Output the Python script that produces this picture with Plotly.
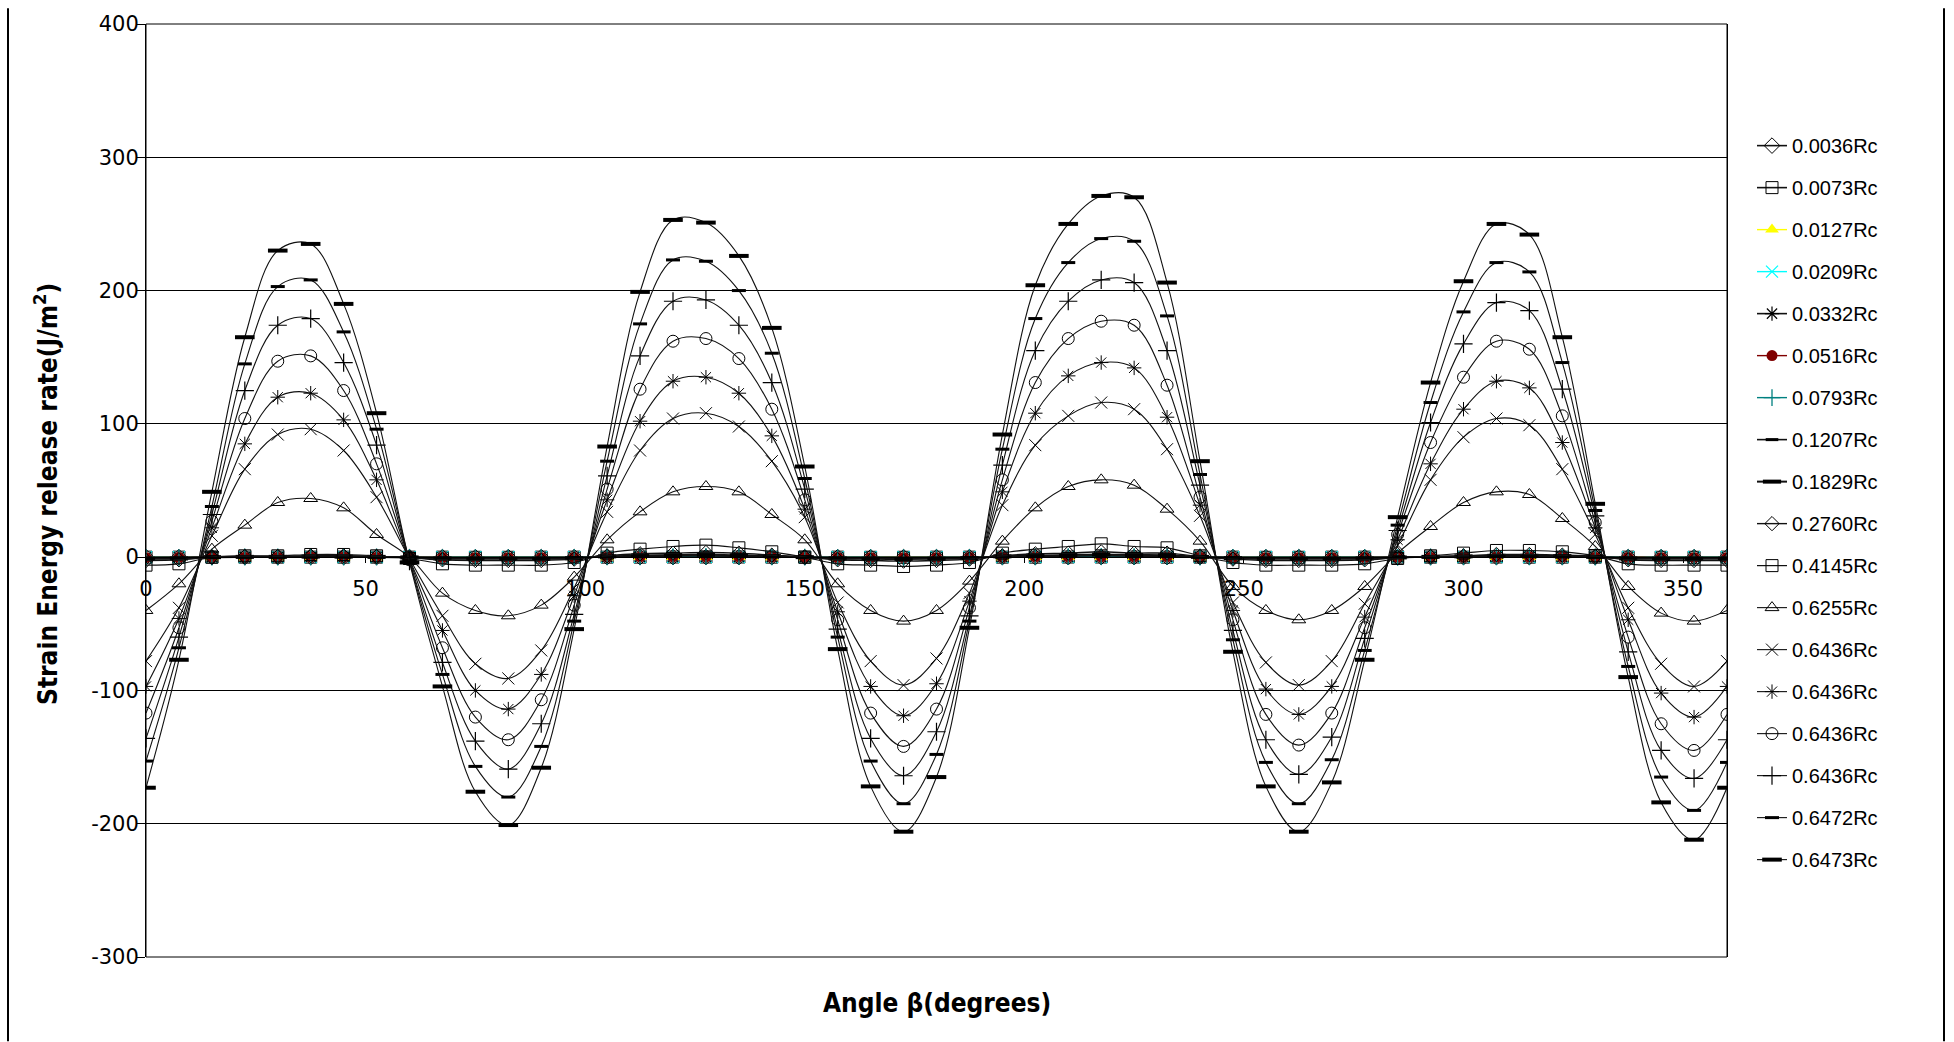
import plotly.graph_objects as go

# ---------------- data ----------------
angle_deg = [0, 7.5, 15, 22.5, 30, 37.5, 45, 52.5, 60, 67.5, 75, 82.5, 90, 97.5,
             105, 112.5, 120, 127.5, 135, 142.5, 150, 157.5, 165, 172.5, 180,
             187.5, 195, 202.5, 210, 217.5, 225, 232.5, 240, 247.5, 255, 262.5,
             270, 277.5, 285, 292.5, 300, 307.5, 315, 322.5, 330, 337.5, 345,
             352.5, 360]

x_tick_vals = [0, 50, 100, 150, 200, 250, 300, 350]
y_tick_vals = [-300, -200, -100, 0, 100, 200, 300, 400]

g_0036 = [0.0, 0.0, 0.0, 0.0, 0.0, 0.0, 0.0, 0.0, 0.0, 0.0, 0.0, 0.0, 0.0, 0.0,
          0.0, 0.0, 0.0, 0.1, 0.0, 0.0, 0.0, 0.0, 0.0, 0.0, 0.0, 0.0, 0.0, 0.0,
          0.0, 0.1, 0.0, 0.0, 0.0, 0.0, 0.0, 0.0, 0.0, 0.0, 0.0, 0.0, 0.0, 0.0,
          0.0, 0.0, 0.0, 0.0, 0.0, 0.0, 0.0]
g_0073 = [0.0, 0.0, 0.0, 0.0, 0.0, 0.0, 0.0, 0.0, 0.0, 0.0, -0.1, -0.1, 0.0, 0.0,
          0.0, 0.0, 0.1, 0.1, 0.1, 0.0, 0.0, 0.0, -0.1, -0.1, 0.0, 0.0, 0.0, 0.0,
          0.1, 0.1, 0.1, 0.0, 0.0, 0.0, -0.1, -0.1, 0.0, 0.0, 0.0, 0.0, 0.0, 0.1,
          0.0, 0.0, 0.0, 0.0, -0.1, -0.1, 0.0]
g_0127 = [-0.1, 0.0, 0.0, 0.0, 0.0, 0.0, 0.0, 0.0, 0.0, 0.0, -0.1, -0.1, -0.1, 0.0,
          0.0, 0.1, 0.1, 0.1, 0.1, 0.0, 0.0, 0.0, -0.1, -0.1, -0.1, 0.0, 0.0, 0.1,
          0.1, 0.1, 0.1, 0.1, 0.0, 0.0, -0.1, -0.1, -0.1, 0.0, 0.0, 0.0, 0.0, 0.1,
          0.1, 0.0, 0.0, 0.0, -0.1, -0.1, -0.1]
g_0209 = [-0.1, -0.1, 0.0, 0.0, 0.0, 0.0, 0.0, 0.0, 0.0, -0.1, -0.1, -0.1, -0.1, 0.0,
          0.0, 0.1, 0.1, 0.1, 0.1, 0.0, 0.0, -0.1, -0.1, -0.1, -0.1, 0.0, 0.0, 0.1,
          0.1, 0.1, 0.1, 0.1, 0.0, -0.1, -0.1, -0.1, -0.1, -0.1, 0.0, 0.0, 0.0, 0.1,
          0.1, 0.0, 0.0, -0.1, -0.1, -0.1, -0.1]
g_0332 = [-0.1, -0.1, 0.0, 0.0, 0.0, 0.0, 0.0, 0.0, 0.0, -0.1, -0.1, -0.1, -0.1, -0.1,
          0.0, 0.1, 0.1, 0.1, 0.1, 0.0, 0.0, -0.1, -0.1, -0.1, -0.1, -0.1, 0.0, 0.1,
          0.1, 0.1, 0.1, 0.1, 0.0, -0.1, -0.1, -0.1, -0.1, -0.1, 0.0, 0.0, 0.0, 0.1,
          0.1, 0.0, 0.0, -0.1, -0.1, -0.1, -0.1]
g_0516 = [-0.2, -0.1, 0.0, 0.0, 0.0, 0.1, 0.1, 0.0, 0.0, -0.1, -0.2, -0.2, -0.2, -0.1,
          0.1, 0.2, 0.2, 0.3, 0.2, 0.1, 0.0, -0.1, -0.2, -0.2, -0.2, -0.1, 0.1, 0.2,
          0.2, 0.3, 0.2, 0.2, 0.0, -0.1, -0.2, -0.2, -0.2, -0.1, 0.0, 0.0, 0.1, 0.1,
          0.1, 0.1, 0.0, -0.1, -0.2, -0.2, -0.2]
g_0793 = [-0.3, -0.3, 0.0, 0.1, 0.1, 0.1, 0.1, 0.1, -0.1, -0.3, -0.3, -0.3, -0.3, -0.2,
          0.2, 0.3, 0.4, 0.5, 0.4, 0.2, 0.0, -0.3, -0.3, -0.4, -0.3, -0.2, 0.2, 0.3,
          0.4, 0.5, 0.4, 0.4, 0.1, -0.2, -0.3, -0.3, -0.3, -0.3, -0.1, 0.1, 0.2, 0.3,
          0.3, 0.2, 0.1, -0.3, -0.3, -0.3, -0.3]
g_1207 = [-0.6, -0.5, 0.0, 0.1, 0.1, 0.2, 0.2, 0.1, -0.1, -0.5, -0.6, -0.6, -0.6, -0.4,
          0.3, 0.6, 0.8, 0.9, 0.7, 0.4, 0.0, -0.5, -0.6, -0.7, -0.6, -0.4, 0.3, 0.6,
          0.8, 1.0, 0.8, 0.7, 0.1, -0.4, -0.6, -0.6, -0.6, -0.5, -0.1, 0.1, 0.3, 0.5,
          0.5, 0.4, 0.1, -0.5, -0.6, -0.6, -0.6]
g_1829 = [-1.2, -1.0, 0.0, 0.2, 0.2, 0.4, 0.4, 0.2, -0.2, -1.0, -1.2, -1.2, -1.2, -0.8,
          0.6, 1.2, 1.6, 1.8, 1.4, 0.8, 0.0, -1.0, -1.2, -1.4, -1.2, -0.8, 0.6, 1.2,
          1.6, 2.0, 1.6, 1.4, 0.2, -0.8, -1.2, -1.2, -1.2, -1.0, -0.2, 0.2, 0.6, 1.0,
          1.0, 0.8, 0.2, -1.0, -1.2, -1.2, -1.2]
g_2760 = [-2.5, -2.0, 0.0, 0.5, 0.5, 1.0, 1.0, 0.5, -0.5, -2.0, -2.5, -2.5, -2.5, -1.5,
          1.0, 2.5, 3.0, 3.5, 3.0, 1.5, 0.0, -2.0, -2.5, -3.0, -2.5, -1.5, 1.0, 2.5,
          3.0, 4.0, 3.0, 3.0, 0.5, -1.5, -2.5, -2.5, -2.5, -2.0, -0.5, 0.5, 1.0, 2.0,
          2.0, 1.5, 0.5, -2.0, -2.5, -2.5, -2.5]
g_4145 = [-6, -5, 0, 1, 1, 2, 2, 1, -1, -5, -6, -6, -6, -4,
          3, 6, 8, 9, 7, 4, 0, -5, -6, -7, -6, -4, 3, 6,
          8, 10, 8, 7, 1, -4, -6, -6, -6, -5, -1, 1, 3, 5,
          5, 4, 1, -5, -6, -6, -6]
g_6255 = [-40, -20, 6, 24, 41, 44, 37, 17, 0, -27, -40, -44, -36, -15,
          13, 34, 49, 53, 49, 32, 13, -20, -40, -48, -40, -18, 12, 37,
          53, 58, 54, 36, 12, -22, -40, -47, -40, -22, 3, 23, 41, 49,
          47, 29, 8, -22, -42, -48, -40]
g_6436a = [-78, -38, 16, 66, 92, 96, 80, 45, -1, -44, -80, -91, -70, -23,
           34, 80, 104, 108, 98, 72, 30, -34, -78, -96, -76, -27, 39, 84,
           106, 116, 111, 81, 31, -34, -79, -96, -78, -35, 9, 58, 90, 104,
           99, 66, 17, -38, -80, -97, -78]
g_6436b = [-97, -46, 22, 85, 120, 123, 103, 58, -2, -55, -100, -114, -88, -29,
           43, 102, 132, 135, 123, 91, 36, -41, -97, -119, -95, -33, 49, 108,
           136, 146, 142, 105, 39, -40, -99, -118, -97, -45, 13, 70, 111, 132,
           127, 86, 22, -47, -102, -120, -97]
g_6436c = [-117, -53, 27, 104, 147, 151, 125, 70, -2, -68, -120, -137, -107, -36,
           51, 126, 162, 164, 149, 111, 43, -47, -117, -142, -114, -38, 58, 131,
           164, 177, 174, 129, 45, -47, -118, -141, -117, -53, 17, 86, 135, 162,
           156, 106, 26, -60, -125, -145, -118]
g_6436d = [-136, -60, 32, 125, 174, 179, 146, 84, -3, -79, -138, -159, -125, -43,
           61, 151, 192, 193, 174, 131, 51, -54, -136, -164, -131, -44, 69, 155,
           192, 208, 206, 155, 54, -55, -137, -163, -135, -61, 20, 101, 160, 191,
           185, 126, 31, -71, -145, -166, -137]
g_6472 = [-153, -68, 38, 145, 203, 208, 169, 96, -3, -88, -157, -180, -142, -48,
          72, 175, 223, 222, 200, 153, 59, -60, -153, -185, -148, -48, 81, 179,
          221, 239, 237, 181, 62, -62, -154, -185, -152, -70, 24, 116, 184, 221,
          214, 146, 35, -82, -165, -190, -154]
g_6473 = [-173, -77, 49, 165, 230, 235, 190, 108, -4, -97, -176, -201, -158, -54,
          83, 199, 253, 251, 226, 172, 68, -69, -172, -206, -165, -53, 92, 204,
          250, 271, 270, 206, 72, -71, -172, -206, -169, -77, 30, 131, 207, 250,
          242, 165, 40, -90, -184, -212, -173]

series_names = ["0.0036Rc", "0.0073Rc", "0.0127Rc", "0.0209Rc", "0.0332Rc",
                "0.0516Rc", "0.0793Rc", "0.1207Rc", "0.1829Rc", "0.2760Rc",
                "0.4145Rc", "0.6255Rc", "0.6436Rc", "0.6436Rc", "0.6436Rc",
                "0.6436Rc", "0.6472Rc", "0.6473Rc"]
series_values = [g_0036, g_0073, g_0127, g_0209, g_0332, g_0516, g_0793, g_1207,
                 g_1829, g_2760, g_4145, g_6255, g_6436a, g_6436b, g_6436c,
                 g_6436d, g_6472, g_6473]

# ---------------- styles ----------------
BLK = "#000000"
styles = [
    dict(color=BLK, symbol="diamond-open", size=12, mlw=1, lw=1.6),
    dict(color=BLK, symbol="square-open", size=12, mlw=1, lw=1.6),
    dict(color="#FFFF00", symbol="triangle-up", size=12, mlw=0, lw=1.4),
    dict(color="#00FFFF", symbol="x-thin-open", size=12, mlw=1.3, lw=1.4),
    dict(color=BLK, symbol="asterisk-open", size=12, mlw=1.2, lw=1.6),
    dict(color="#800000", symbol="circle", size=11, mlw=0, lw=1.4),
    dict(color="#008080", symbol="cross-thin-open", size=12, mlw=1.3, lw=1.4),
    dict(color=BLK, symbol="line-ew-open", size=9, mlw=3, lw=1.6),
    dict(color=BLK, symbol="line-ew-open", size=13, mlw=4, lw=2),
    dict(color=BLK, symbol="diamond-open", size=11, mlw=1, lw=1.4),
    dict(color=BLK, symbol="square-open", size=12, mlw=1, lw=1.2),
    dict(color=BLK, symbol="triangle-up-open", size=12, mlw=1, lw=1.1),
    dict(color=BLK, symbol="x-thin-open", size=12, mlw=1, lw=1.1),
    dict(color=BLK, symbol="asterisk-open", size=12, mlw=1, lw=1.1),
    dict(color=BLK, symbol="circle-open", size=12, mlw=1, lw=1.1),
    dict(color=BLK, symbol="cross-thin-open", size=13, mlw=1.2, lw=1.1),
    dict(color=BLK, symbol="line-ew-open", size=10, mlw=3, lw=1.1),
    dict(color=BLK, symbol="line-ew-open", size=14, mlw=4, lw=1.1),
]

fig = go.Figure()
for i, (name, vals, st) in enumerate(zip(series_names, series_values, styles)):
    fig.add_trace(go.Scatter(
        x=angle_deg, y=vals, name=name, mode="lines+markers",
        legendgroup="g%d" % i,
        line=dict(color=st["color"] if st["color"] != BLK else "#111111",
                  width=st["lw"], shape="spline", smoothing=1.0),
        marker=dict(symbol=st["symbol"], size=st["size"], color=st["color"],
                    line=dict(color=st["color"], width=st["mlw"])),
        cliponaxis=True,
    ))

# plot area in pixels
L, R, T, B = 146, 1727, 16, 957
W, H = 1954, 1042
pw, ph = R - L, B - T


def px_x(X):
    return (X - L) / pw


def px_y(Y):
    return (B - Y) / ph


tick_font = dict(family="DejaVu Sans, Liberation Sans, Arial, sans-serif", size=21, color="#000000")
title_font = dict(family="'Liberation Sans Narrow', 'DejaVu Sans Condensed', 'Arial Narrow', sans-serif",
                  size=26, color="#000000")

fig.update_layout(
    width=W, height=H, autosize=False,
    margin=dict(l=L, r=W - R, t=T, b=H - B, pad=0),
    paper_bgcolor="white", plot_bgcolor="white",
    showlegend=True,
    legend=dict(
        x=px_x(1752), xanchor="left", y=px_y(119), yanchor="top",
        font=dict(family="Liberation Sans, Arial, sans-serif", size=20, color="#000000"),
        tracegroupgap=13, itemwidth=30, bgcolor="rgba(0,0,0,0)", borderwidth=0,
    ),
    xaxis=dict(
        range=[0, 360], tickvals=x_tick_vals, ticktext=[str(v) for v in x_tick_vals],
        showgrid=False, zeroline=False, showline=True, linecolor="#000000", linewidth=1,
        anchor="free", position=300 / 700, ticks="outside", ticklen=5, tickcolor="#000000",
        tickfont=tick_font, ticklabelstandoff=8,
    ),
    yaxis=dict(
        range=[-300, 400], tickvals=y_tick_vals, ticktext=[str(v) for v in y_tick_vals],
        showgrid=True, gridcolor="#000000", gridwidth=1, zeroline=False,
        showline=True, linecolor="#000000", linewidth=1, mirror=True,
        ticks="outside", ticklen=8, tickcolor="#000000", tickfont=tick_font,
        ticklabelstandoff=-6,
    ),
    shapes=[
        dict(type="rect", xref="paper", yref="paper", x0=0, x1=1, y0=0, y1=1,
             line=dict(color="#000000", width=1), layer="below"),
        dict(type="line", xref="paper", yref="paper", x0=px_x(8), x1=px_x(8),
             y0=px_y(0), y1=px_y(H), line=dict(color="#000000", width=2)),
        dict(type="line", xref="paper", yref="paper", x0=px_x(1944), x1=px_x(1944),
             y0=px_y(0), y1=px_y(H), line=dict(color="#000000", width=2)),
    ],
    annotations=[
        dict(text="Angle β(degrees)", xref="paper", yref="paper", x=0.5, y=px_y(1003),
             xanchor="center", yanchor="middle", showarrow=False,
             font=dict(title_font, weight="bold")),
        dict(text="Strain Energy release rate(J/m<sup>2</sup>)", xref="paper", yref="paper",
             x=px_x(46), y=px_y(490), xanchor="center", yanchor="middle", textangle=-90,
             showarrow=False, font=dict(title_font, weight="bold")),
    ],
)

fig.write_html("out.html")
